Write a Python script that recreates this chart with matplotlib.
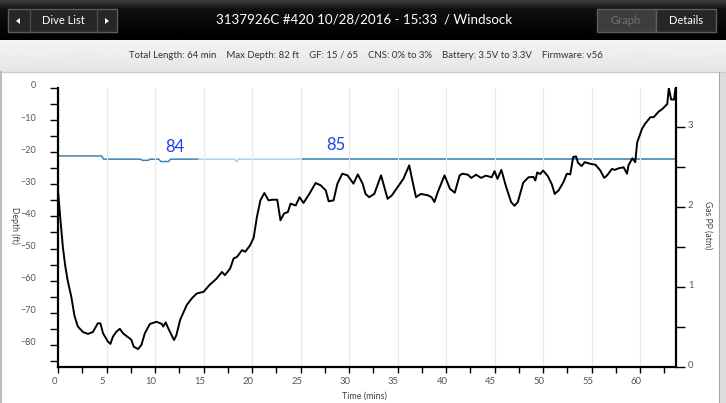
import numpy as np
import matplotlib
matplotlib.use("Agg")
import matplotlib.pyplot as plt
from matplotlib.patches import Rectangle, Polygon
from matplotlib.transforms import ScaledTranslation

plt.rcParams['font.family'] = ['Lato', 'DejaVu Sans']

# depth profile (minutes, feet)
time_min = [0, 0.25, 0.5, 0.75, 1.0, 1.37, 1.7, 2.05, 2.57, 3.09, 3.6, 4.1, 4.37, 4.64,
            5.15, 5.4, 5.67, 6.02, 6.37, 6.7, 7.12, 7.4, 7.57, 7.81, 8.26, 8.6, 8.95,
            9.47, 10.16, 10.7, 10.85, 11.1, 11.37, 11.96, 12.2, 12.58, 13.27, 13.8,
            14.3, 15.0, 15.6, 16.3, 16.9, 17.2, 17.75, 18.1, 18.45, 18.97, 19.3, 19.8,
            20.17, 20.5, 20.86, 21.27, 21.7, 22.07, 22.6, 22.93, 23.3, 23.7, 23.97,
            24.5, 24.9, 25.3, 25.9, 26.55, 27.07, 27.6, 27.9, 28.4, 28.8, 29.3, 29.84,
            30.45, 30.9, 31.4, 31.7, 32.07, 32.6, 33.1, 33.3, 33.97, 34.4, 35.0, 35.6,
            36.2, 36.56, 36.9, 37.4, 38.1, 38.5, 38.8, 39.15, 39.84, 40.4, 40.9, 41.4,
            41.7, 42.25, 42.6, 43.1, 43.6, 44.1, 44.7, 45.0, 45.3, 45.7, 46.2, 46.7,
            47.05, 47.4, 47.95, 48.5, 49.0, 49.2, 49.4, 49.7, 50.0, 50.5, 50.9, 51.2,
            51.6, 52.1, 52.45, 52.8, 53.1, 53.4, 53.6, 53.97, 54.3, 54.85, 55.4, 55.9,
            56.3, 56.6, 57.1, 57.4, 57.8, 58.3, 58.65, 58.8, 59.2, 59.5, 59.7, 60.2,
            60.5, 61.06, 61.4, 61.9, 62.3, 62.8, 62.96, 63.2, 63.5, 63.65]
depth_ft = [-32, -41, -49.5, -55.5, -60, -65, -71, -74.3, -76, -76.6, -76, -73.3, -73.3, -76.4,
            -79, -79.7, -77.4, -75.9, -75, -76.4, -77.4, -78, -78.5, -80.6, -81.3, -80, -76.4,
            -73.5, -72.8, -73.5, -74.3, -73, -74.9, -78.5, -77, -72.3, -67.6, -65.5,
            -64, -63.5, -61.4, -59.5, -57.3, -58.3, -56.2, -53.1, -52.6, -50.5, -51, -49,
            -46.6, -40.2, -35, -32.7, -35, -34.8, -34.8, -41.2, -39.1, -38.6, -36,
            -36.6, -34, -35.8, -33, -29.6, -30.3, -31.9, -35.3, -35, -29.8, -26.7, -27.2,
            -29.8, -26.9, -29.8, -33, -34, -33, -28.8, -27.2, -34.5, -33.5, -30.9, -28.3,
            -24.1, -29.3, -34, -33, -33.4, -34, -35.5, -32.4, -27.2, -31.4, -32.6, -27.2,
            -26.7, -27, -28, -27, -28, -27.3, -27.8, -25.9, -28.3, -25.5, -30.9, -35.5,
            -36.7, -35.5, -29.5, -27.8, -27.7, -28.8, -26.3, -26.8, -25.7, -27.5, -30, -33,
            -31.9, -29.3, -26.7, -26.9, -21.5, -21.3, -23.3, -24.3, -23.1, -23.6, -23.9, -25.7,
            -28, -27.2, -25.2, -25.5, -25, -24.7, -26.7, -24.1, -21.9, -23.1, -16.9, -12.7,
            -11.2, -9.1, -9.1, -7.4, -6.5, -5, 0, -3.6, -3.6, 0]

# gas partial pressure line, three segments
gas_t_a = [0, 4.5, 4.7, 8.5, 8.7, 9.3, 9.5, 10.4, 10.6, 11.4, 11.6, 14.5]
gas_pp_a = [2.64, 2.64, 2.60, 2.60, 2.585, 2.585, 2.60, 2.60, 2.57, 2.57, 2.60, 2.60]
gas_t_b = [14.5, 18.2, 18.4, 18.6, 25.2]
gas_pp_b = [2.60, 2.60, 2.57, 2.60, 2.60]
gas_t_c = [25.2, 63.7]
gas_pp_c = [2.60, 2.60]

gas_labels = ['84', '85']
gas_label_t = [12.0, 28.6]
gas_label_pp = [2.75, 2.78]

x_ticks = list(range(0, 61, 5))
depth_ticks = list(range(0, -81, -10))
pp_ticks = [0, 1, 2, 3]

title = "3137926C #420 10/28/2016 - 15:33  / Windsock"
info = ("Total Length: 64 min    Max Depth: 82 ft    GF: 15 / 65    "
        "CNS: 0% to 3%    Battery: 3.5V to 3.3V    Firmware: v56")

W, H = 726, 403
fig = plt.figure(figsize=(W / 100, H / 100), dpi=100)
fig.patch.set_facecolor('white')

# --- window chrome, pixel coordinates ---
bg = fig.add_axes([0, 0, 1, 1])
bg.set_xlim(0, W)
bg.set_ylim(H, 0)
bg.axis('off')

grad = np.concatenate([np.linspace(0.24, 0.06, 10), np.linspace(0.06, 0.0, 30)])
bg.imshow(np.repeat(grad[:, None], 2, axis=1), cmap='gray', vmin=0, vmax=1,
          extent=[0, W, 40, 0], aspect='auto', interpolation='bilinear')
grad2 = np.linspace(0.955, 0.9, 32)
bg.imshow(np.repeat(grad2[:, None], 2, axis=1), cmap='gray', vmin=0, vmax=1,
          extent=[0, W, 72, 40], aspect='auto', interpolation='bilinear')
bg.plot([0, W], [72, 72], color='#cccccc', lw=1)
bg.add_patch(Rectangle((719, 72), 7, H - 72, color='#dcdcdc', lw=0))
bg.plot([719, 719], [72, H], color='#a8a8a8', lw=0.8)
bg.plot([1, 1], [72, H], color='#bdbdbd', lw=1.5)

# dive list button
bg.add_patch(Rectangle((8, 9), 109, 23, facecolor='#262626', edgecolor='#5e5e5e', lw=1))
bg.plot([30, 30], [9, 32], color='#4a4a4a', lw=1)
bg.plot([97, 97], [9, 32], color='#4a4a4a', lw=1)
bg.add_patch(Polygon([[16, 21], [20, 18], [20, 24]], color='white', lw=0))
bg.add_patch(Polygon([[109, 21], [105, 18], [105, 24]], color='white', lw=0))
bg.text(63, 21, "Dive List", color='white', fontsize=8, ha='center', va='center')

# graph / details switch
bg.add_patch(Rectangle((597, 9), 59, 23, facecolor='#3d3d3d', edgecolor='#5e5e5e', lw=1))
bg.add_patch(Rectangle((656, 9), 60, 23, facecolor='#262626', edgecolor='#5e5e5e', lw=1))
bg.text(626, 21, "Graph", color='#707070', fontsize=8, ha='center', va='center')
bg.text(686, 21, "Details", color='white', fontsize=8, ha='center', va='center')

bg.text(364, 20, title, color='white', fontsize=9.6, ha='center', va='center')
bg.text(366, 55, info, color='#333333', fontsize=6.9, ha='center', va='center')

# --- chart ---
ax = fig.add_axes([58 / W, 1 - 367 / H, (676 - 58) / W, (367 - 88) / H])
ax2 = ax.twinx()
ax.set_zorder(ax2.get_zorder() + 1)
ax.patch.set_visible(False)

ax2.plot(gas_t_a, gas_pp_a, color='#3a84b8', lw=1.1)
ax2.plot(gas_t_b, gas_pp_b, color='#a9d0e8', lw=1.1)
ax2.plot(gas_t_c, gas_pp_c, color='#2d7db0', lw=1.1)
for lab, t, p in zip(gas_labels, gas_label_t, gas_label_pp):
    ax2.text(t, p, lab, color='#2040f0', fontsize=12, ha='center', va='center')

ax.plot(time_min, depth_ft, color='black', lw=1.4)

ax.set_xlim(0, 63.7)
ax.set_ylim(-86.9, 0)
ax2.set_ylim(0, 3.49)

ax.set_xticks(x_ticks)
ax.set_xticks(np.arange(2.5, 63.7, 5), minor=True)
ax.set_yticks(depth_ticks)
ax.set_yticks(range(-5, -86, -10), minor=True)
ax2.set_yticks(pp_ticks)
ax2.set_yticks([0.5, 1.5, 2.5], minor=True)

ax.grid(axis='x', color='#e9e9e9', lw=0.8)
ax.set_axisbelow(True)

for s in ['top', 'right']:
    ax.spines[s].set_visible(False)
for s in ['top', 'left', 'bottom']:
    ax2.spines[s].set_visible(False)
ax.spines['left'].set_linewidth(1.6)
ax.spines['bottom'].set_linewidth(1.6)
ax2.spines['right'].set_linewidth(1.6)

ax.tick_params(axis='x', which='both', length=4, width=1, pad=3, labelsize=6.8, labelcolor='#555555')
ax.tick_params(axis='y', which='both', length=5.8, width=1, pad=10, labelsize=6.5, labelcolor='#555555')
ax2.tick_params(axis='y', which='both', length=6.3, width=1, pad=2.3, labelsize=6.8, labelcolor='#555555')

for lab in ax.get_xticklabels():
    lab.set_transform(lab.get_transform() + ScaledTranslation(-4 / 100, 0, fig.dpi_scale_trans))
for lab in ax.get_yticklabels() + ax2.get_yticklabels():
    lab.set_transform(lab.get_transform() + ScaledTranslation(0, 3 / 100, fig.dpi_scale_trans))

fig.text(15 / W, 1 - 225 / H, "Depth (ft)", rotation=270, fontsize=6.2, color='#444444',
         ha='center', va='center')
fig.text(708 / W, 1 - 225 / H, "Gas PP (atm)", rotation=270, fontsize=6.2, color='#444444',
         ha='center', va='center')
fig.text(364 / W, 1 - 396 / H, "Time (mins)", fontsize=6.5, color='#444444',
         ha='center', va='center')

fig.savefig('out.png', dpi=100)
